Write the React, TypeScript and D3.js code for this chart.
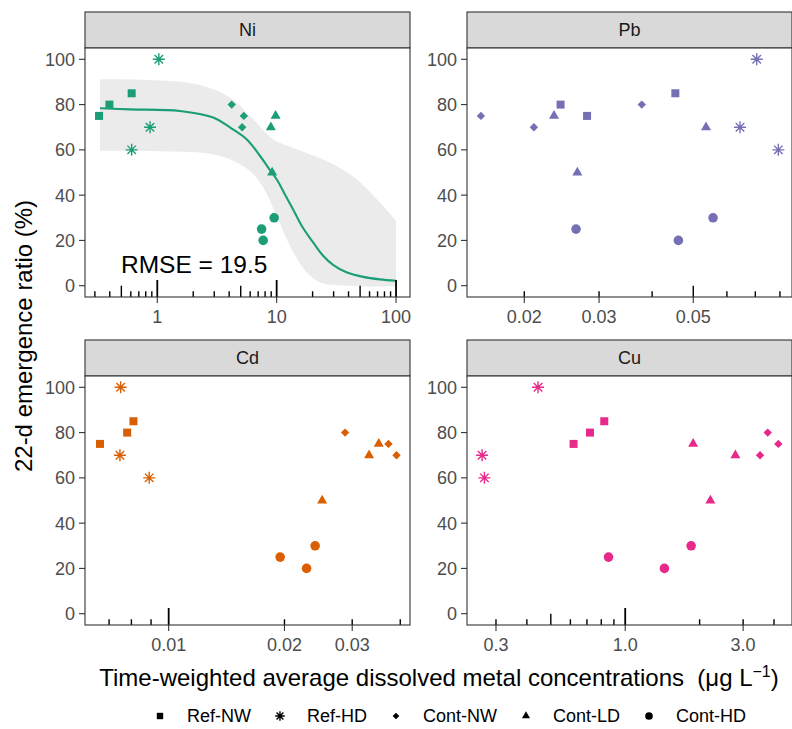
import React from 'react';
import * as d3 from 'd3';

// ---------- data ----------
const METALS = ['Ni', 'Pb', 'Cd', 'Cu'];
const METAL_COLORS = ['#1b9e77', '#7570b3', '#d95f02', '#e7298a'];
const GROUPS = ['Ref-NW', 'Ref-HD', 'Cont-NW', 'Cont-LD', 'Cont-HD'];

// group index per sample (0 Ref-NW, 1 Ref-HD, 2 Cont-NW, 3 Cont-LD, 4 Cont-HD)
const sampleGroup = [0, 0, 0, 1, 1, 1, 2, 2, 2, 3, 3, 3, 4, 4, 4];

const niConc = [0.325, 0.397, 0.61, 1.03, 0.869, 0.61, 4.2, 5.31, 5.14, 9.8, 8.94, 9.17, 9.53, 7.48, 7.71];
const niRatio = [75, 80, 85, 100, 70, 60, 80, 75, 70, 75, 70, 50, 30, 25, 20];

const pbConc = [0.02435, 0.02811, 0.04537, 0.07053, 0.06443, 0.0793, 0.01581, 0.02107, 0.03782, 0.0235, 0.02667, 0.05358, 0.02648, 0.04612, 0.05566];
const pbRatio = [80, 75, 85, 100, 70, 60, 75, 70, 80, 75, 50, 70, 25, 20, 30];

const cdConc = [0.00663, 0.0078, 0.0081, 0.0075, 0.00747, 0.0089, 0.02875, 0.03727, 0.03911, 0.03517, 0.03319, 0.02506, 0.01949, 0.02283, 0.02403];
const cdRatio = [75, 80, 85, 100, 70, 60, 80, 75, 70, 75, 70, 50, 25, 20, 30];

const cuConc = [0.618, 0.7202, 0.8227, 0.2636, 0.2693, 0.4438, 3.512, 3.772, 4.164, 1.883, 2.211, 2.791, 0.856, 1.441, 1.848];
const cuRatio = [75, 80, 85, 70, 60, 100, 70, 80, 75, 75, 50, 70, 25, 20, 30];

// fitted curve for Ni
const niFitX = [0.331, 0.59, 1.55, 2.94, 4.06, 5.6, 7.24, 8.5, 10, 11.7, 13.7, 16.2, 20.2, 24.5, 29.7, 38.4, 53, 73, 100];
const niFitY = [78.4, 77.9, 77.2, 74.3, 69.9, 64.7, 57.4, 52.2, 47, 40.4, 33.8, 26.5, 19.1, 13.2, 9.2, 5.9, 3.9, 2.8, 2.2];
// confidence band for Ni
const niBandUpX = [0.331, 0.815, 2.14, 4.06, 6.36, 9.35, 14.7, 27.9, 46.6, 73.1, 100];
const niBandUpY = [91.2, 90.9, 89, 83.1, 73.5, 64.7, 60.3, 54.4, 47.1, 36.8, 28.7];
const niBandLoX = [0.331, 1.12, 2.59, 4.06, 5.97, 7.71, 10, 12.9, 17.8, 23, 38.4, 100];
const niBandLoY = [59.6, 59.3, 58.5, 55.9, 50.7, 43.4, 30.9, 17.6, 5.9, 1.5, 0, -0.3];
const niRmseLabel = 'RMSE = 19.5';

const yTicks = [0, 20, 40, 60, 80, 100];
const yDomain = [-5, 105];

const niXTicks = [1, 10, 100];
const niXLabels = ['1', '10', '100'];
const pbXTicks = [0.02, 0.03, 0.05];
const pbXLabels = ['0.02', '0.03', '0.05'];
const cdXTicks = [0.01, 0.02, 0.03];
const cdXLabels = ['0.01', '0.02', '0.03'];
const cuXTicks = [0.3, 1, 3];
const cuXLabels = ['0.3', '1.0', '3.0'];

const xDomains = [
  [0.248, 130.9],
  [0.01466, 0.0854],
  [0.00606, 0.0424],
  [0.229, 4.73],
];

const concs = [niConc, pbConc, cdConc, cuConc];
const ratios = [niRatio, pbRatio, cdRatio, cuRatio];
const xTicksAll = [niXTicks, pbXTicks, cdXTicks, cuXTicks];
const xLabelsAll = [niXLabels, pbXLabels, cdXLabels, cuXLabels];

// ---------- layout ----------
const W = 792;
const H = 729;
const COLS = [[85, 410], [467, 792]];
const ROWS = [[48, 297], [376, 625]];
const STRIP_H = 36;
const FONT = "'Liberation Sans', Arial, Helvetica, sans-serif";
const TICK_COL = '#333333';
const LABEL_COL = '#4d4d4d';

function Shape({ type, x, y, color, s = 1 }: { type: number; x: number; y: number; color: string; s?: number }) {
  if (type === 0) {
    const h = 4 * s;
    return <rect x={x - h} y={y - h} width={2 * h} height={2 * h} fill={color} />;
  }
  if (type === 1) {
    const a = 6 * s;
    const b = a * 0.7071;
    return (
      <path
        d={`M${x - a},${y}H${x + a}M${x},${y - a}V${y + a}M${x - b},${y - b}L${x + b},${y + b}M${x - b},${y + b}L${x + b},${y - b}`}
        stroke={color}
        strokeWidth={1.4}
        fill="none"
      />
    );
  }
  if (type === 2) {
    const a = 4.2 * s;
    return <path d={`M${x},${y - a}L${x + a},${y}L${x},${y + a}L${x - a},${y}Z`} fill={color} />;
  }
  if (type === 3) {
    const r = 5.8 * s;
    return <path d={`M${x},${y - r}L${x + r * 0.866},${y + r * 0.5}L${x - r * 0.866},${y + r * 0.5}Z`} fill={color} />;
  }
  return <circle cx={x} cy={y} r={4.8 * s} fill={color} />;
}

function logTicks(domain: number[]) {
  const out: { v: number; len: number }[] = [];
  const k0 = Math.floor(Math.log10(domain[0]));
  const k1 = Math.ceil(Math.log10(domain[1]));
  for (let k = k0; k <= k1; k++) {
    for (let m = 1; m <= 9; m++) {
      const v = m * Math.pow(10, k);
      if (v >= domain[0] && v <= domain[1]) {
        out.push({ v, len: m === 1 ? 17 : m === 5 ? 11.3 : 5.7 });
      }
    }
  }
  return out;
}

function Panel({ idx }: { idx: number }) {
  const col = idx % 2;
  const row = Math.floor(idx / 2);
  const [x0, x1] = COLS[col];
  const [y0, y1] = ROWS[row];
  const color = METAL_COLORS[idx];
  const xs = d3.scaleLog().domain(xDomains[idx]).range([x0, x1]);
  const ys = d3.scaleLinear().domain(yDomain).range([y1, y0]);
  const conc = concs[idx];
  const ratio = ratios[idx];

  let ribbon: string | null = null;
  let curve: string | null = null;
  if (idx === 0) {
    const line = d3
      .line<[number, number]>()
      .x((d) => xs(d[0]))
      .y((d) => ys(d[1]))
      .curve(d3.curveCatmullRom.alpha(0.5));
    const up = niBandUpX.map((v, i) => [v, niBandUpY[i]] as [number, number]);
    const lo = niBandLoX.map((v, i) => [v, niBandLoY[i]] as [number, number]).reverse();
    ribbon = (line(up) || '') + (line(lo) || '').replace(/^M/, 'L') + 'Z';
    curve = line(niFitX.map((v, i) => [v, niFitY[i]] as [number, number]));
  }

  const lt = logTicks(xDomains[idx]);

  return (
    <g>
      {/* strip */}
      <rect x={x0} y={y0 - STRIP_H} width={x1 - x0} height={STRIP_H} fill="#d9d9d9" stroke={TICK_COL} strokeWidth={1.1} />
      <text x={(x0 + x1) / 2} y={y0 - STRIP_H / 2} dy="0.36em" textAnchor="middle" fontSize={18} fill="#1a1a1a">
        {METALS[idx]}
      </text>
      {/* panel bg */}
      <rect x={x0} y={y0} width={x1 - x0} height={y1 - y0} fill="#ffffff" />
      {ribbon && <path d={ribbon} fill="#ebebeb" stroke="none" />}
      {curve && <path d={curve} fill="none" stroke={color} strokeWidth={2.1} />}
      {conc.map((c, i) => (
        <Shape key={i} type={sampleGroup[i]} x={xs(c)} y={ys(ratio[i])} color={color} />
      ))}
      {idx === 0 && (
        <text x={121} y={273} fontSize={24.5} fill="#000">
          {niRmseLabel}
        </text>
      )}
      {/* log ticks */}
      {lt.map((t, i) => (
        <line
          key={i}
          x1={xs(t.v)}
          x2={xs(t.v)}
          y1={y1}
          y2={y1 - t.len}
          stroke="#000"
          strokeWidth={t.len > 15 ? 1.8 : 1.4}
        />
      ))}
      {/* border */}
      <rect x={x0} y={y0} width={x1 - x0} height={y1 - y0} fill="none" stroke={TICK_COL} strokeWidth={1.1} />
      {/* y axis */}
      {yTicks.map((t) => (
        <g key={t}>
          <line x1={x0 - 6} x2={x0} y1={ys(t)} y2={ys(t)} stroke={TICK_COL} strokeWidth={1.1} />
          <text x={x0 - 10} y={ys(t)} dy="0.36em" textAnchor="end" fontSize={18} fill={LABEL_COL}>
            {t}
          </text>
        </g>
      ))}
      {/* x axis */}
      {xTicksAll[idx].map((t, i) => (
        <g key={t}>
          <line x1={xs(t)} x2={xs(t)} y1={y1} y2={y1 + 6} stroke={TICK_COL} strokeWidth={1.1} />
          <text x={xs(t)} y={y1 + 26} textAnchor="middle" fontSize={18} fill={LABEL_COL}>
            {xLabelsAll[idx][i]}
          </text>
        </g>
      ))}
    </g>
  );
}

function measure(txt: string, size: number) {
  try {
    const c = document.createElement('canvas').getContext('2d');
    if (c) {
      c.font = `${size}px 'Liberation Sans', Arial, sans-serif`;
      return c.measureText(txt).width;
    }
  } catch (e) {}
  return txt.length * size * 0.55;
}

function Legend() {
  const size = 18;
  const keyToText = 27;
  const textToKey = 29;
  const widths = GROUPS.map((g) => measure(g, size));
  let total = 0;
  widths.forEach((w, i) => {
    total += keyToText + w + (i < widths.length - 1 ? textToKey : 0);
  });
  const cx = 449;
  let x = cx - total / 2 + 4;
  const yc = 716;
  const items: React.ReactNode[] = [];
  GROUPS.forEach((g, i) => {
    items.push(<Shape key={'s' + i} type={i} x={x} y={yc} color="#000" s={0.8} />);
    items.push(
      <text key={'t' + i} x={x + keyToText} y={yc} dy="0.36em" fontSize={size} fill="#000">
        {g}
      </text>
    );
    x += keyToText + widths[i] + textToKey;
  });
  return <g>{items}</g>;
}

export default function App() {
  return (
    <svg
      width={W}
      height={H}
      viewBox={`0 0 ${W} ${H}`}
      style={{ position: 'absolute', left: 0, top: 0, background: '#ffffff' }}
      fontFamily={FONT}
    >
      <rect x={0} y={0} width={W} height={H} fill="#ffffff" />
      {METALS.map((m, i) => (
        <Panel key={m} idx={i} />
      ))}
      <text transform="translate(32,336) rotate(-90)" textAnchor="middle" fontSize={24} fill="#000">
        22-d emergence ratio (%)
      </text>
      <text x={439} y={686} textAnchor="middle" fontSize={24} fill="#000">
        {'Time-weighted average dissolved metal concentrations\u00a0\u00a0(\u03bcg L'}
        <tspan dy={-9} fontSize={16}>
          {'\u22121'}
        </tspan>
        <tspan dy={9}>)</tspan>
      </text>
      <Legend />
    </svg>
  );
}
